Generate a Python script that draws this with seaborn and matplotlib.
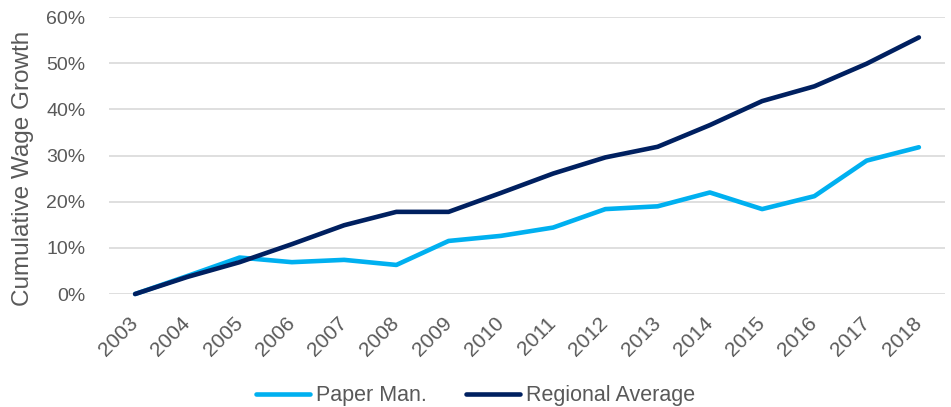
import numpy as np
import pandas as pd
import seaborn as sns
import matplotlib.pyplot as plt
from matplotlib.ticker import PercentFormatter

# Data (cumulative growth, %)
years = list(range(2003, 2019))
paper_man = [0.0, 3.9, 7.9, 6.9, 7.4, 6.3, 11.5, 12.6, 14.4, 18.4, 19.0, 22.0, 18.4, 21.2, 28.9, 31.8]
regional_avg = [0.0, 3.7, 6.9, 10.8, 14.9, 17.8, 17.8, 21.9, 26.1, 29.6, 31.9, 36.6, 41.8, 45.0, 49.9, 55.6]
series_names = ["Paper Man.", "Regional Average"]
colors = ["#00B0F0", "#002060"]
y_ticks = [0, 10, 20, 30, 40, 50, 60]

df = pd.DataFrame({
    "Year": years * 2,
    "Growth": paper_man + regional_avg,
    "Series": [series_names[0]] * len(years) + [series_names[1]] * len(years),
})

sns.set_style("white")
plt.rcParams["font.family"] = ["Liberation Sans", "DejaVu Sans"]
text_gray = "#595959"

fig = plt.figure(figsize=(9.51, 4.07), dpi=100)
ax = fig.add_axes([0.1146, 0.2776, 0.8791, 0.6804])

sns.lineplot(data=df, x="Year", y="Growth", hue="Series", palette=colors,
             linewidth=3.3, ax=ax, legend=True)
for line in ax.lines:
    line.set_solid_capstyle("round")
    line.set_solid_joinstyle("round")
    line.set_clip_on(False)

ax.set_xlim(2002.5, 2018.5)
ax.set_ylim(0, 60)
ax.set_yticks(y_ticks)
ax.yaxis.set_major_formatter(PercentFormatter(decimals=0))
ax.set_xticks(years)
ax.set_xticklabels([str(y) for y in years], rotation=45, ha="right",
                   va="center", rotation_mode="anchor")
ax.tick_params(axis="both", length=0, colors=text_gray)
ax.tick_params(axis="y", pad=17, labelsize=14)
ax.tick_params(axis="x", pad=19, labelsize=15)

ax.grid(axis="y", color="#D9D9D9", linewidth=1.2)
ax.set_axisbelow(True)
sns.despine(ax=ax, left=True, bottom=True)

ax.set_xlabel("")
ax.set_ylabel("Cumulative Wage Growth", fontsize=17.5, color=text_gray)
ax.yaxis.set_label_coords(-0.09, 0.455)

handles, labels = ax.get_legend_handles_labels()
ax.legend(handles, labels, loc="center", bbox_to_anchor=(0.5, 11 / 407),
          bbox_transform=fig.transFigure, ncol=2, frameon=False,
          fontsize=15.5, handlelength=2.5, handletextpad=0.3,
          columnspacing=1.8, labelcolor=text_gray)

fig.savefig("out.png", dpi=100)
